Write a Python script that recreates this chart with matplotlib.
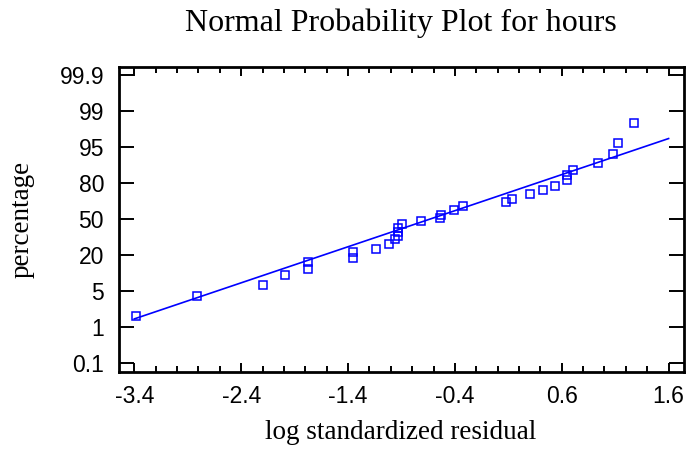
import matplotlib
matplotlib.use("Agg")
import matplotlib.pyplot as plt
import numpy as np

# log standardized residuals (x) and normal scores of plotting positions (y, z units)
x_vals = [-3.384, -2.815, -2.193, -1.988, -1.773, -1.773, -1.353, -1.353, -1.136,
          -1.021, -0.965, -0.935, -0.932, -0.930, -0.891, -0.716, -0.542, -0.527,
          -0.408, -0.322, 0.083, 0.130, 0.301, 0.428, 0.534, 0.649, 0.649, 0.705,
          0.938, 1.084, 1.124, 1.274]
z_vals = [-2.15, -1.70, -1.46, -1.25, -1.11, -0.96, -0.87, -0.73, -0.66,
          -0.55, -0.44, -0.37, -0.29, -0.20, -0.10, -0.04, 0.03, 0.10,
          0.21, 0.28, 0.38, 0.45, 0.56, 0.65, 0.73, 0.86, 0.98, 1.10,
          1.24, 1.44, 1.69, 2.14]

# fitted normal line parameters
fit_mean = -0.632
fit_sd = 1.247
line_x_range = [-3.4, 1.6]

x_ticks = [-3.4, -2.4, -1.4, -0.4, 0.6, 1.6]
y_tick_z = [-3.2, -2.4, -1.6, -0.8, 0.0, 0.8, 1.6, 2.4, 3.2]
y_tick_labels = ["0.1", "1", "5", "20", "50", "80", "95", "99", "99.9"]

blue = "#0000ff"
serif = ["Liberation Serif", "DejaVu Serif"]
sans = ["Liberation Sans", "DejaVu Sans"]

fig = plt.figure(figsize=(6.88, 4.51), dpi=100)
ax = fig.add_axes([0.173, 0.1752, 0.821, 0.6762])

lx = np.array(line_x_range)
ax.plot(lx, (lx - fit_mean) / fit_sd, color=blue, lw=1.2)
ax.plot(x_vals, z_vals, linestyle="none", marker="s", markersize=5.6,
        markerfacecolor="none", markeredgecolor=blue, markeredgewidth=1.1)

ax.set_xlim(-3.543, 1.743)
ax.set_ylim(-3.4, 3.38)
ax.set_xticks(x_ticks)
ax.set_xticklabels([f"{v:.1f}" for v in x_ticks], fontfamily=sans, fontsize=16.5)
ax.set_xticks(np.arange(-3.4, 1.61, 0.2), minor=True)
ax.set_yticks(y_tick_z)
ax.set_yticklabels(y_tick_labels, fontfamily=sans, fontsize=16.5)

ax.tick_params(axis="x", which="major", direction="in", length=6.5, width=1.4,
               top=True, bottom=True, pad=9.5)
ax.tick_params(axis="x", which="minor", direction="in", length=4, width=1.4,
               top=True, bottom=True)
ax.tick_params(axis="y", which="major", direction="in", length=10.5, width=1.4,
               left=True, right=True, pad=10.8)
for s in ax.spines.values():
    s.set_linewidth(2.0)

fig.text(0.582, 0.948, "Normal Probability Plot for hours", ha="center", va="center",
         fontfamily=serif, fontsize=23)
fig.text(0.582, 0.040, "log standardized residual", ha="center", va="center",
         fontfamily=serif, fontsize=19.5)
fig.text(0.032, 0.513, "percentage", ha="center", va="center", rotation=90,
         fontfamily=serif, fontsize=19.5)

fig.savefig("out.png", dpi=100)
